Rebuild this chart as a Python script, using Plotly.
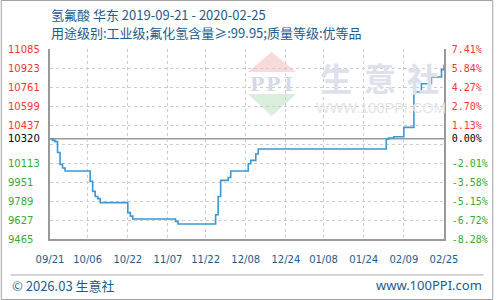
import plotly.graph_objects as go

# ---------------- data ----------------
dates = ["2019-09-21", "2019-09-22", "2019-09-23", "2019-09-24", "2019-09-25", "2019-09-26",
         "2019-09-27", "2019-10-07", "2019-10-08", "2019-10-09", "2019-10-10", "2019-10-11",
         "2019-10-22", "2019-10-23", "2019-10-24", "2019-11-10", "2019-11-11", "2019-11-26",
         "2019-11-27", "2019-11-28", "2019-12-01", "2019-12-02", "2019-12-09", "2019-12-10",
         "2019-12-12", "2019-12-13", "2020-02-02", "2020-02-03", "2020-02-05", "2020-02-09",
         "2020-02-13", "2020-02-16", "2020-02-20", "2020-02-24", "2020-02-25"]
prices = [10320, 10306, 10295, 10203, 10101, 10070,
          10045, 9956, 9871, 9828, 9809, 9775,
          9690, 9660, 9636, 9615, 9593, 9672,
          9828, 9965, 9990, 10045, 10107, 10135,
          10190, 10232, 10318, 10326, 10337, 10417,
          10718, 10789, 10846, 10909, 10951]

base_price = 10320
grid_values = [11085, 10923, 10761, 10599, 10437, 10275, 10113, 9951, 9789, 9627, 9465]
label_values = [11085, 10923, 10761, 10599, 10437, 10320, 10113, 9951, 9789, 9627, 9465]
x_tick_dates = ["2019-09-21", "2019-10-06", "2019-10-22", "2019-11-07", "2019-11-22", "2019-12-08",
                "2019-12-24", "2020-01-08", "2020-01-24", "2020-02-09", "2020-02-25"]
x_tick_labels = ["09/21", "10/06", "10/22", "11/07", "11/22", "12/08",
                 "12/24", "01/08", "01/24", "02/09", "02/25"]

title_text = "氢氟酸 华东 2019-09-21 - 2020-02-25"
subtitle_text = "用途级别:工业级;氟化氢含量≥:99.95;质量等级:优等品"

# ---------------- layout helpers ----------------
W, H = 500, 300
ML, MR, MT, MB = 50, 50, 49, 61
PW, PH = W - ML - MR, H - MT - MB


def px(x):
    return (x - ML) / PW


def py(y):
    return (H - MB - y) / PH


RED = "#ff3333"
GREEN = "#33aa33"
BLACK = "#000000"
BLUE_TXT = "#1d5b8c"


def col(v):
    if v > base_price:
        return RED
    if v < base_price:
        return GREEN
    return BLACK


pct_text = []
for v in label_values:
    p = (v / base_price - 1) * 100
    pct_text.append(f'<span style="color:{col(v)}">{p:.2f}%</span>')

fig = go.Figure()
fig.add_trace(go.Scatter(x=dates, y=prices, mode="lines", line=dict(color="#3b98d4", width=1.6, shape="hv"),
                         hoverinfo="skip", showlegend=False))
fig.add_trace(go.Scatter(x=dates, y=prices, mode="lines", line=dict(width=0), opacity=0, yaxis="y2",
                         hoverinfo="skip", showlegend=False))

yr = [min(grid_values), max(grid_values)]

fig.update_layout(
    width=W, height=H,
    margin=dict(l=ML, r=MR, t=MT, b=MB),
    paper_bgcolor="white", plot_bgcolor="white",
    showlegend=False,
    xaxis=dict(
        type="date", range=[x_tick_dates[0], x_tick_dates[-1]],
        tickvals=x_tick_dates, ticktext=x_tick_labels,
        showgrid=True, gridcolor="#cccccc", griddash="3px,3px", gridwidth=1,
        showline=True, linecolor="#999999", linewidth=1.5,
        ticks="", ticklabelstandoff=10,
        tickfont=dict(family="DejaVu Sans", size=10, color=BLUE_TXT),
        zeroline=False, fixedrange=True,
    ),
    yaxis=dict(
        range=yr, tickvals=grid_values, showticklabels=False,
        showgrid=True, gridcolor="#cccccc", griddash="3px,3px", gridwidth=1,
        showline=True, linecolor="#999999", linewidth=1.5, ticks="", zeroline=False,
    ),
    yaxis2=dict(
        range=yr, overlaying="y", side="right", tickvals=label_values, ticktext=pct_text,
        showgrid=False, showline=True, linecolor="#999999", linewidth=1.5, ticks="",
        ticklabelstandoff=4, zeroline=False,
        tickfont=dict(family="DejaVu Sans Mono", size=10, color=BLACK),
    ),
)

shapes = []
# baseline
shapes.append(dict(type="line", xref="paper", yref="y", x0=0, x1=1, y0=base_price, y1=base_price,
                   line=dict(color="#999999", width=1.5), layer="between"))
# watermark logo triangles
shapes.append(dict(type="path", xref="paper", yref="paper",
                   path=f"M {px(251)},{py(72)} L {px(275)},{py(52)} L {px(300)},{py(72)} Z",
                   fillcolor="#f9dada", line=dict(width=0), layer="between"))
shapes.append(dict(type="path", xref="paper", yref="paper",
                   path=f"M {px(251)},{py(94)} L {px(275)},{py(116)} L {px(300)},{py(94)} Z",
                   fillcolor="#d9efdc", line=dict(width=0), layer="between"))
# footer separator
shapes.append(dict(type="line", xref="paper", yref="paper", x0=px(10), x1=px(490), y0=py(275), y1=py(275),
                   line=dict(color="#aaaaaa", width=1)))
# outer border
shapes.append(dict(type="rect", xref="paper", yref="paper", x0=px(0.5), x1=px(499.5), y0=py(299.5), y1=py(0.5),
                   line=dict(color="#a0a0a0", width=1), fillcolor="rgba(0,0,0,0)"))
fig.update_layout(shapes=shapes)

ann = []
# left tick labels
for v in label_values:
    ann.append(dict(xref="paper", yref="y", x=px(5), y=v, xanchor="left", yanchor="middle",
                    text=str(v), showarrow=False,
                    font=dict(family="DejaVu Sans", size=10, color=col(v))))
# titles
ann.append(dict(xref="paper", yref="paper", x=px(49), y=py(14), xanchor="left", yanchor="middle",
                text=title_text, showarrow=False,
                font=dict(family="Noto Sans CJK SC", size=13, color=BLUE_TXT)))
ann.append(dict(xref="paper", yref="paper", x=px(49), y=py(33), xanchor="left", yanchor="middle",
                text=subtitle_text, showarrow=False,
                font=dict(family="Noto Sans CJK SC", size=13, color=BLUE_TXT)))
# footer
ann.append(dict(xref="paper", yref="paper", x=px(9), y=py(285), xanchor="left", yanchor="middle",
                text="© 2026.03 生意社", showarrow=False,
                font=dict(family="Noto Sans CJK SC", size=13, color=BLUE_TXT)))
ann.append(dict(xref="paper", yref="paper", x=px(491), y=py(285), xanchor="right", yanchor="middle",
                text="www.100PPI.com", showarrow=False,
                font=dict(family="Noto Sans", size=13, color=BLUE_TXT)))
# watermark
for ch, cx in zip(["P", "P", "I"], [260, 276, 292]):
    ann.append(dict(xref="paper", yref="paper", x=px(cx), y=py(84), xanchor="center", yanchor="middle",
                    text=f"<b>{ch}</b>", showarrow=False,
                    font=dict(family="DejaVu Serif", size=19, color="#d4d9ea")))
for ch, cx in zip(["生", "意", "社"], [340, 385, 429]):
    ann.append(dict(xref="paper", yref="paper", x=px(cx), y=py(77), xanchor="center", yanchor="middle",
                    text=f"<b>{ch}</b>", showarrow=False,
                    font=dict(family="Noto Sans CJK SC", size=32, color="#dde1ec")))
ann.append(dict(xref="paper", yref="paper", x=px(386), y=py(108), xanchor="center", yanchor="middle",
                text="WWW.100PPI.COM", showarrow=False,
                font=dict(family="Liberation Sans", size=14.5, color="#e4e4e4")))
fig.update_layout(annotations=ann)

fig.write_html("out.html")
